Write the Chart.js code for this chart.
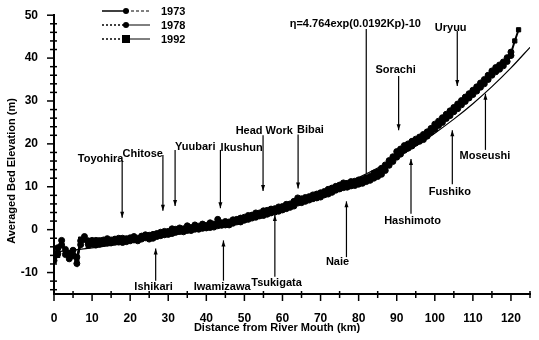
<!DOCTYPE html>
<html>
<head>
<meta charset="utf-8">
<script src="https://cdn.jsdelivr.net/npm/chart.js@4/dist/chart.umd.min.js"></script>
<style>
  body { margin: 0; background: #fff; }
  #wrap { width: 539px; height: 340px; }
</style>
</head>
<body>
<div id="wrap"><canvas id="bed-chart" width="539" height="340"></canvas></div>
<script>
// distance from river mouth (km)
const km = [0,1,2,3,4,5,6,7,8,9,10,11,12,13,14,15,16,17,18,19,20,21,22,23,24,25,26,27,28,29,
  30,31,32,33,34,35,36,37,38,39,40,41,42,43,44,45,46,47,48,49,50,51,52,53,54,55,56,57,58,59,
  60,61,62,63,64,65,66,67,68,69,70,71,72,73,74,75,76,77,78,79,80,81,82,83,84,85,86,87,88,89,
  90,91,92,93,94,95,96,97,98,99,100,101,102,103,104,105,106,107,108,109,110,111,112,113,114,
  115,116,117,118,119,120,121,122];

// averaged bed elevation (m)
const elev1973 = [-6.5,-4.2,-2.5,-5.8,-6.2,-4.8,-7.9,-2.6,-1.6,-3.4,-2.5,-3.6,-2.7,-3.2,-2.1,-3.1,-2.2,-2.9,-2.0,-2.8,
  -1.9,-2.4,-2.6,-1.5,-1.9,-1.3,-2.0,-0.9,-1.4,-0.4,-1.1,0.2,-0.6,0.4,-0.5,0.9,-0.2,1.1,0.1,1.3,
  0.4,1.6,0.6,2.4,1.0,1.9,1.1,2.3,1.8,2.7,2.2,3.3,2.7,3.9,3.2,4.4,3.6,4.8,4.1,5.3,
  4.6,5.9,5.2,6.6,7.4,6.3,7.5,6.9,8.1,7.4,8.6,8.1,9.4,8.7,10.1,9.5,10.9,9.9,11.2,10.3,
  11.6,10.8,12.1,11.5,13.2,12.4,14.3,13.8,16.1,15.9,18.2,17.6,19.6,19.0,20.6,20.2,21.6,21.0,22.8,22.7,
  24.6,24.3,26.1,25.9,27.7,27.5,29.3,29.1,30.9,30.7,32.5,32.3,34.2,34.0,36.0,36.0,37.8,37.4,39.1,39.2,
  41.4,null,null];
const elev1978 = [-7.2,-5.6,-3.6,-4.6,-6.8,-5.9,-6.4,-3.5,-2.3,-2.6,-3.4,-2.5,-3.4,-2.4,-3.1,-2.4,-2.9,-2.0,-3.0,-2.1,
  -2.6,-1.6,-2.0,-2.2,-1.2,-2.2,-1.1,-1.6,-0.6,-1.2,-0.4,-0.9,0.1,-0.4,0.2,-0.2,0.5,0.1,0.8,0.3,
  1.0,0.5,1.3,0.9,1.6,1.1,1.8,1.5,2.4,1.8,2.9,2.4,3.4,2.9,3.9,3.3,4.5,3.9,4.9,4.3,
  5.4,4.9,6.0,5.5,6.2,7.2,6.6,7.7,7.2,8.3,7.6,8.9,8.3,9.7,9.2,10.4,9.8,10.8,10.2,11.3,
  10.6,11.7,11.2,12.4,12.0,13.5,12.9,15.1,15.0,17.0,16.9,18.8,18.5,20.0,19.5,21.1,20.6,22.2,21.8,23.6,
  23.4,25.3,25.0,26.9,26.6,28.5,28.2,30.1,29.9,31.7,31.5,33.3,33.2,35.0,35.0,37.0,36.8,38.4,38.2,40.1,
  40.6,null,null];
const elev1992 = [-5.4,-6.0,-2.9,-5.2,-5.4,-6.3,-6.9,-2.2,-2.0,-3.8,-2.9,-3.0,-2.4,-2.9,-2.6,-2.6,-2.5,-2.6,-2.5,-2.3,
  -2.1,-2.1,-2.4,-1.8,-1.4,-1.7,-1.5,-1.1,-0.9,-0.7,-0.9,-0.4,-0.2,0.1,-0.1,0.4,0.1,0.6,0.4,0.7,
  0.7,1.0,0.9,1.3,1.3,1.5,1.4,1.7,2.1,2.2,2.6,2.8,3.0,3.3,3.6,3.8,4.1,4.3,4.6,4.8,
  5.1,5.3,5.7,6.0,6.4,6.8,7.0,7.3,7.5,7.8,8.1,8.4,8.9,9.2,9.6,10.0,10.3,10.4,10.7,10.8,
  11.1,11.3,11.7,12.0,12.6,13.1,13.6,14.6,15.6,16.6,17.6,18.4,19.1,19.5,20.1,20.6,21.2,21.7,22.4,23.2,
  24.1,24.9,25.7,26.5,27.3,28.1,28.9,29.7,30.5,31.3,32.1,32.9,33.8,34.6,35.6,36.6,37.4,38.1,38.8,39.7,
  41.1,44.0,46.6];

// fitted curve eta=4.764exp(0.0192Kp)-10, every 5 km
const fitKm = [0,5,10,15,20,25,30,35,40,45,50,55,60,65,70,75,80,85,90,95,100,105,110,115,120,125];
const fitElev = [-5.24,-4.76,-4.23,-3.65,-3.01,-2.30,-1.53,-0.67,0.27,1.30,2.44,3.70,5.08,6.60,8.27,
  10.11,12.13,14.36,16.82,19.52,22.50,25.77,29.37,33.34,37.71,42.51];

const years = ['1973', '1978', '1992'];
const fitLabel = 'η=4.764exp(0.0192Kp)-10';

// place names with their pointer lines (km, elevation)
const places = [
  {name: 'Toyohira', tx: 6.25, ty: 16.5, at: 17.9, from: 16.1, to: 2.8},
  {name: 'Chitose', tx: 18.0, ty: 17.7, at: 28.6, from: 17.4, to: 4.4},
  {name: 'Yuubari', tx: 31.8, ty: 19.2, at: 31.8, from: 18.6, to: 5.5},
  {name: 'Ikushun', tx: 43.75, ty: 19.0, at: 43.7, from: 18.6, to: 5.0},
  {name: 'Head Work', tx: 47.7, ty: 22.9, at: 54.9, from: 22.0, to: 9.0},
  {name: 'Bibai', tx: 63.8, ty: 23.2, at: 64.1, from: 22.2, to: 9.6},
  {name: 'Uryuu', tx: 100.0, ty: 47.0, at: 105.9, from: 46.3, to: 33.5},
  {name: 'Sorachi', tx: 84.4, ty: 37.2, at: 90.5, from: 35.8, to: 23.2},
  {name: 'Moseushi', tx: 106.5, ty: 17.2, at: 113.3, from: 18.6, to: 31.7},
  {name: 'Fushiko', tx: 98.4, ty: 8.9, at: 104.6, from: 10.6, to: 23.2},
  {name: 'Hashimoto', tx: 86.7, ty: 1.95, at: 93.75, from: 3.7, to: 16.5},
  {name: 'Naie', tx: 71.4, ty: -7.6, at: 76.8, from: -6.4, to: 6.6},
  {name: 'Tsukigata', tx: 51.8, ty: -12.4, at: 58.0, from: -11.0, to: 3.4},
  {name: 'Iwamizawa', tx: 36.7, ty: -13.3, at: 44.5, from: -11.9, to: -2.5},
  {name: 'Ishikari', tx: 21.1, ty: -13.3, at: 26.7, from: -11.9, to: -4.4}
];
const fitNote = {tx: 61.9, ty: 47.9, at: 82.0, from: 46.8, to: 13.1};

const FONT = '"Liberation Sans", Arial, Helvetica, sans-serif';

function toPoints(xs, ys) {
  return xs.map((v, i) => ({x: v, y: ys[i]}));
}

function markerSet(style, r) {
  return {
    borderColor: '#000',
    backgroundColor: '#000',
    borderWidth: 2,
    pointStyle: style,
    pointRadius: r,
    pointBorderWidth: 1,
    pointBackgroundColor: '#000',
    pointBorderColor: '#000',
    spanGaps: false,
    tension: 0
  };
}

// ticks, legend, place names, axis titles
const overlay = {
  id: 'overlay',
  afterDraw(chart) {
    const ctx = chart.ctx;
    const xs = chart.scales.x, ys = chart.scales.y;
    const x0 = xs.left, y0 = ys.bottom;
    ctx.save();
    ctx.strokeStyle = '#000';
    ctx.fillStyle = '#000';

    // y ticks
    ctx.lineWidth = 1.5;
    for (let v = -14; v <= 50; v += 2) {
      const py = ys.getPixelForValue(v);
      ctx.beginPath();
      if (v % 10 === 0) { ctx.moveTo(x0 - 7, py); ctx.lineTo(x0 + 1, py); }
      else { ctx.moveTo(x0 - 4, py); ctx.lineTo(x0 + 3, py); }
      ctx.stroke();
    }
    // x ticks
    for (let v = 0; v <= 125; v += 5) {
      const px = xs.getPixelForValue(v);
      ctx.beginPath();
      if (v % 10 === 0) { ctx.moveTo(px, y0 - 1); ctx.lineTo(px, y0 + 7); }
      else { ctx.moveTo(px, y0 - 3); ctx.lineTo(px, y0 + 4); }
      ctx.stroke();
    }

    // legend
    ctx.font = 'bold 11px ' + FONT;
    ctx.textBaseline = 'middle';
    ctx.textAlign = 'left';
    years.forEach((yr, i) => {
      const ly = 11 + i * 14;
      ctx.lineWidth = 1.5;
      ctx.setLineDash(i === 0 ? [] : [2, 2]);
      ctx.beginPath(); ctx.moveTo(102, ly); ctx.lineTo(126, ly); ctx.stroke();
      ctx.lineWidth = 1;
      ctx.setLineDash(i === 0 ? [3, 2] : []);
      ctx.beginPath(); ctx.moveTo(126, ly); ctx.lineTo(150, ly); ctx.stroke();
      ctx.setLineDash([]);
      if (i === 2) ctx.fillRect(122, ly - 4, 8, 8);
      else { ctx.beginPath(); ctx.arc(126, ly, 3, 0, Math.PI * 2); ctx.fill(); }
      ctx.fillText(yr, 161, ly + 0.5);
    });

    // place names and pointer arrows
    function arrow(at, from, to, head) {
      const px = xs.getPixelForValue(at);
      const p1 = ys.getPixelForValue(from), p2 = ys.getPixelForValue(to);
      ctx.lineWidth = 1.2;
      ctx.beginPath(); ctx.moveTo(px, p1); ctx.lineTo(px, p2); ctx.stroke();
      if (head) {
        const d = p2 > p1 ? -1 : 1;
        ctx.beginPath();
        ctx.moveTo(px, p2);
        ctx.lineTo(px - 2, p2 + d * 6);
        ctx.lineTo(px + 2, p2 + d * 6);
        ctx.closePath(); ctx.fill();
      }
    }
    places.forEach(p => {
      arrow(p.at, p.from, p.to, true);
      ctx.fillText(p.name, xs.getPixelForValue(p.tx), ys.getPixelForValue(p.ty));
    });
    arrow(fitNote.at, fitNote.from, fitNote.to, false);
    ctx.fillText(fitLabel, xs.getPixelForValue(fitNote.tx), ys.getPixelForValue(fitNote.ty));

    // axis titles
    ctx.font = 'bold 11px ' + FONT;
    ctx.textAlign = 'center';
    ctx.fillText('Distance from River Mouth (km)', 277, 328);
    ctx.translate(12, 171);
    ctx.rotate(-Math.PI / 2);
    ctx.fillText('Averaged Bed Elevation (m)', 0, 0);
    ctx.restore();
  }
};

new Chart(document.getElementById('bed-chart'), {
  type: 'line',
  data: {
    datasets: [
      Object.assign({label: 'fit', data: toPoints(fitKm, fitElev)}, markerSet('circle', 0),
        {borderWidth: 1.2, cubicInterpolationMode: 'monotone'}),
      Object.assign({label: years[0], data: toPoints(km, elev1973)}, markerSet('circle', 3)),
      Object.assign({label: years[1], data: toPoints(km, elev1978)}, markerSet('circle', 3)),
      Object.assign({label: years[2], data: toPoints(km, elev1992)}, markerSet('rect', 3))
    ]
  },
  options: {
    responsive: false,
    devicePixelRatio: 1,
    animation: false,
    layout: { padding: { top: 11, right: 4, left: 0, bottom: 0 } },
    plugins: {
      legend: { display: false },
      tooltip: { enabled: false }
    },
    scales: {
      x: {
        type: 'linear',
        min: 0,
        max: 125,
        afterFit: function(scale) { scale.height = 46; },
        grid: { display: false },
        border: { display: true, color: '#000', width: 2 },
        ticks: {
          stepSize: 5,
          autoSkip: false,
          maxRotation: 0,
          padding: 9,
          color: '#000',
          font: { family: FONT, size: 12, weight: 'bold' },
          callback: v => (v % 10 === 0 ? v : '')
        }
      },
      y: {
        min: -15,
        max: 50,
        afterFit: function(scale) { scale.width = 54; },
        grid: { display: false },
        border: { display: true, color: '#000', width: 2 },
        ticks: {
          stepSize: 2,
          autoSkip: false,
          padding: 8,
          color: '#000',
          font: { family: FONT, size: 12, weight: 'bold' },
          callback: v => (v % 10 === 0 ? v : '')
        }
      }
    }
  },
  plugins: [overlay]
});
</script>
</body>
</html>
